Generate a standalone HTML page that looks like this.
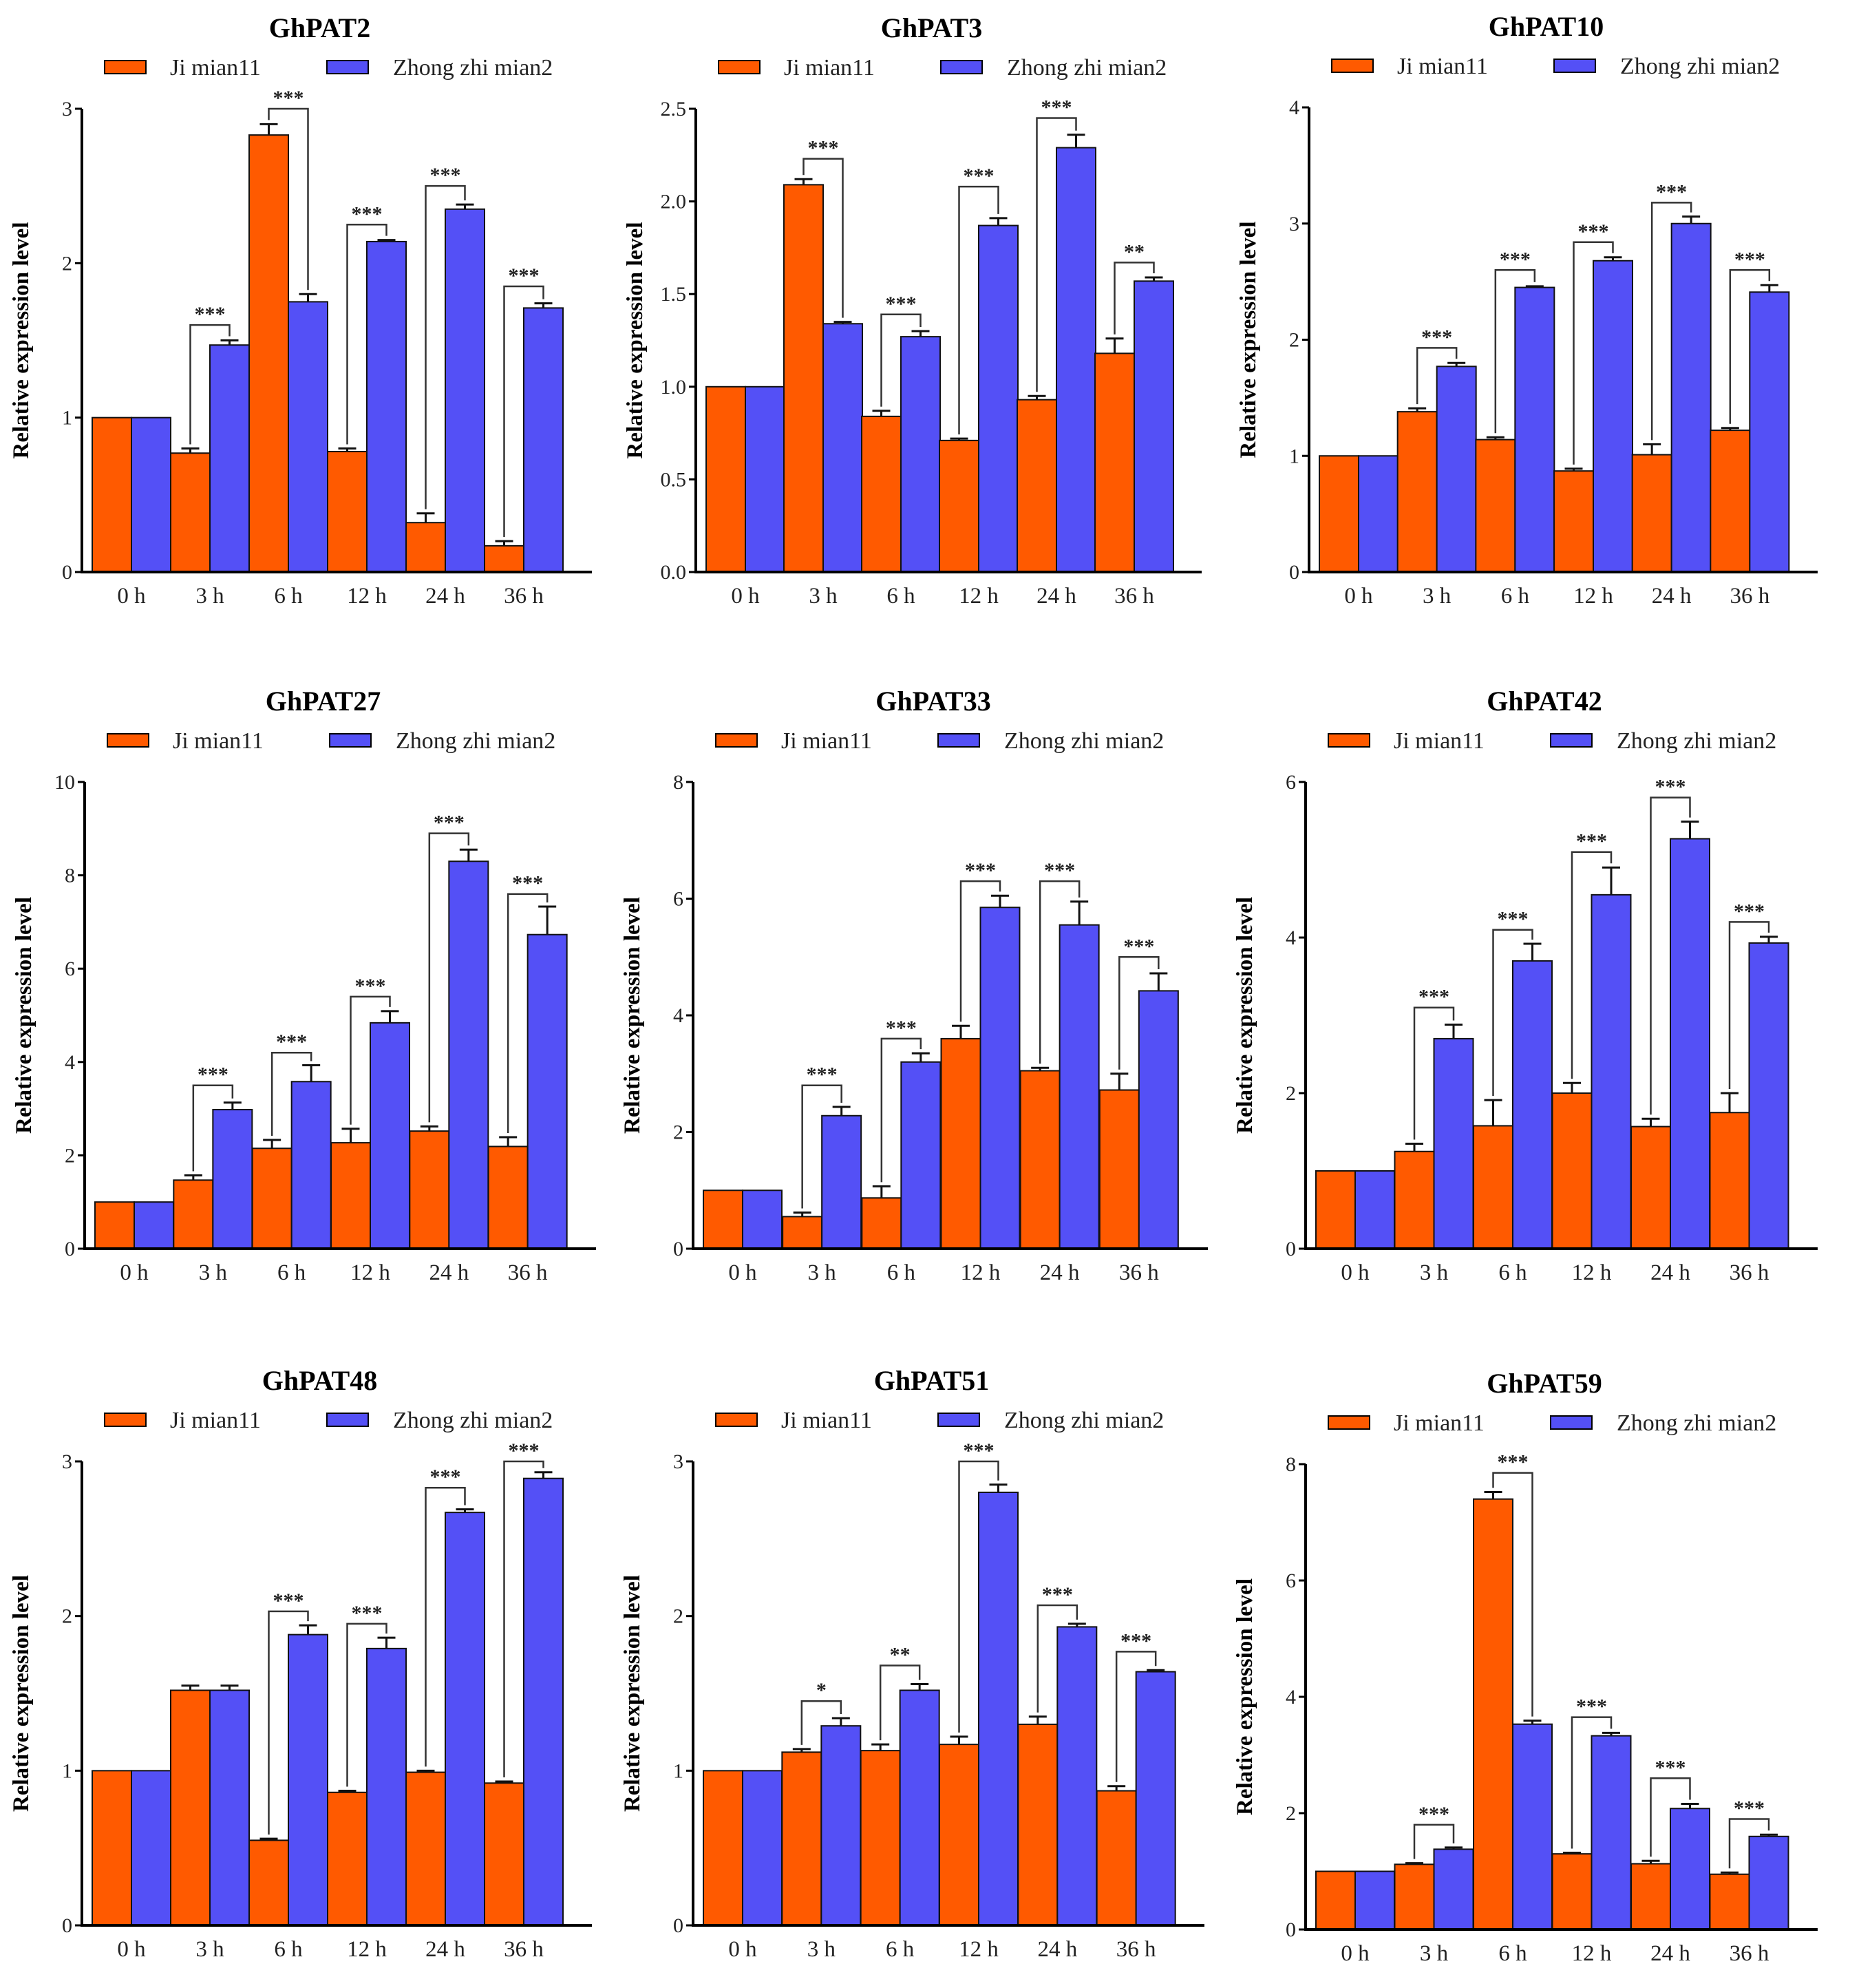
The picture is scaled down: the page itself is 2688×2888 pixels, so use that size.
<!DOCTYPE html>
<html><head><meta charset="utf-8"><style>
html,body{margin:0;padding:0;background:#fff;}
svg{display:block;font-family:"Liberation Serif",serif;}
svg text{font-family:"Liberation Serif","DejaVu Serif",serif;}
</style></head><body>
<svg id="chart" width="2688" height="2888" viewBox="0 0 2688 2888" xmlns="http://www.w3.org/2000/svg"></svg>
<script>
const categories = ["0 h","3 h","6 h","12 h","24 h","36 h"];
const titles = ["GhPAT2","GhPAT3","GhPAT10","GhPAT27","GhPAT33","GhPAT42","GhPAT48","GhPAT51","GhPAT59"];
const yMaxes = [3,2.5,4,10,8,6,3,3,8];
const yTickLabels = [
 ["0","1","2","3"],["0.0","0.5","1.0","1.5","2.0","2.5"],["0","1","2","3","4"],
 ["0","2","4","6","8","10"],["0","2","4","6","8"],["0","2","4","6"],
 ["0","1","2","3"],["0","1","2","3"],["0","2","4","6","8"]];
const jiValues = [
 [1,0.77,2.83,0.78,0.32,0.17],[1,2.09,0.84,0.71,0.93,1.18],[1,1.38,1.14,0.87,1.01,1.22],
 [1,1.47,2.15,2.27,2.52,2.19],[1,0.55,0.87,3.6,3.05,2.72],[1,1.25,1.58,2.0,1.57,1.75],
 [1,1.52,0.55,0.86,0.99,0.92],[1,1.12,1.13,1.17,1.3,0.87],[1,1.12,7.4,1.3,1.13,0.95]];
const jiErrors = [
 [0,0.03,0.07,0.02,0.06,0.03],[0,0.03,0.03,0.01,0.02,0.08],[0,0.03,0.02,0.02,0.09,0.02],
 [0,0.1,0.18,0.3,0.1,0.2],[0,0.07,0.2,0.22,0.05,0.28],[0,0.1,0.33,0.13,0.1,0.25],
 [0,0.03,0.01,0.01,0.01,0.01],[0,0.02,0.04,0.05,0.05,0.03],[0,0.02,0.12,0.02,0.05,0.03]];
const zhongValues = [
 [1,1.47,1.75,2.14,2.35,1.71],[1,1.34,1.27,1.87,2.29,1.57],[1,1.77,2.45,2.68,3.0,2.41],
 [1,2.98,3.58,4.84,8.3,6.73],[1,2.28,3.2,5.85,5.55,4.42],[1,2.7,3.7,4.55,5.27,3.93],
 [1,1.52,1.88,1.79,2.67,2.89],[1,1.29,1.52,2.8,1.93,1.64],[1,1.38,3.53,3.33,2.08,1.6]];
const zhongErrors = [
 [0,0.03,0.05,0.01,0.03,0.03],[0,0.01,0.03,0.04,0.07,0.02],[0,0.03,0.01,0.03,0.06,0.06],
 [0,0.15,0.35,0.25,0.25,0.6],[0,0.15,0.15,0.2,0.4,0.3],[0,0.18,0.22,0.35,0.22,0.08],
 [0,0.03,0.06,0.07,0.02,0.04],[0,0.05,0.04,0.05,0.02,0.01],[0,0.03,0.06,0.05,0.08,0.03]];
const sigLabels = [
 ["","***","***","***","***","***"],["","***","***","***","***","**"],["","***","***","***","***","***"],
 ["","***","***","***","***","***"],["","***","***","***","***","***"],["","***","***","***","***","***"],
 ["","","***","***","***","***"],["","*","**","***","***","***"],["","***","***","***","***","***"]];
const bracketHeights = [
 [0,1.6,3.0,2.25,2.5,1.85],[0,2.23,1.39,2.08,2.45,1.67],[0,1.93,2.6,2.84,3.18,2.6],
 [0,3.5,4.2,5.4,8.9,7.6],[0,2.8,3.6,6.3,6.3,5.0],[0,3.1,4.1,5.1,5.8,4.2],
 [0,0,2.03,1.95,2.83,3.0],[0,1.45,1.68,3.0,2.07,1.77],[0,1.8,7.85,3.65,2.6,1.9]];

const layouts = [
 {x0:119,x1:860,yt:158,yb:831},{x0:1011,x1:1746,yt:158,yb:831},{x0:1902,x1:2641,yt:156,yb:831},
 {x0:123,x1:866,yt:1136,yb:1814},{x0:1007,x1:1755,yt:1136,yb:1814},{x0:1897,x1:2641,yt:1136,yb:1814},
 {x0:119,x1:860,yt:2123,yb:2797},{x0:1007,x1:1750,yt:2123,yb:2797},{x0:1897,x1:2641,yt:2127,yb:2803}];
const ORANGE="#FF5A00", BLUE="#5450F6";
const FONT='"Liberation Serif", "DejaVu Serif", serif';
const svg=document.getElementById('chart');
const NS="http://www.w3.org/2000/svg";
function mk(tag,attrs,parent){const e=document.createElementNS(NS,tag);for(const k in attrs)e.setAttribute(k,attrs[k]);if(tag==='text')e.setAttribute('font-family',FONT);(parent||svg).appendChild(e);return e;}

layouts.forEach((L,p)=>{
  const g=mk('g',{});
  
  
  const yMax=yMaxes[p];
  const y=v=>L.yb-(v/yMax)*(L.yb-L.yt);
  const bw=57, start=L.x0+15, gw=(L.x1-L.x0-57)/6;
  const xJ=i=>start+i*gw, xZ=i=>start+i*gw+bw;
  const t=mk('text',{x:(L.x0+L.x1)/2-25,y:L.yt-104,'text-anchor':'middle','font-size':40,'font-weight':'bold'},g);
  t.textContent=titles[p];
  
  
  const lg=mk('g',{},g);
  
  
  const ly=L.yt-60;
  const s1=mk('rect',{x:L.x0+33,y:ly-10,width:60,height:19,fill:ORANGE,stroke:'#000','stroke-width':2},lg);
  
  
  const t1=mk('text',{x:L.x0+128,y:ly+11,'font-size':34,fill:'#222'},lg);t1.textContent='Ji mian11';
  
  
  const s2=mk('rect',{x:L.x0+356,y:ly-10,width:60,height:19,fill:BLUE,stroke:'#000','stroke-width':2},lg);
  
  
  const t2=mk('text',{x:L.x0+452,y:ly+11,'font-size':34,fill:'#222'},lg);t2.textContent='Zhong zhi mian2';
  
  
  const yc=(L.yt+L.yb)/2;
  const yt=mk('text',{x:L.x0-78,y:yc,'text-anchor':'middle','font-size':33,'font-weight':'bold',transform:`rotate(-90 ${L.x0-78} ${yc})`},g);
  yt.textContent='Relative expression level';
  
  
  const labs=yTickLabels[p];
  labs.forEach((lab,k)=>{
    const v=yMax*k/(labs.length-1), yy=y(v);
    const tk=mk('line',{x1:L.x0-10,x2:L.x0,y1:yy,y2:yy,stroke:'#000','stroke-width':3},g);
    
    
    const tl=mk('text',{x:L.x0-14,y:yy+10,'text-anchor':'end','font-size':30,fill:'#222'},g);tl.textContent=lab;
    
    
  });
  categories.forEach((c,i)=>{
    [[jiValues,jiErrors,ORANGE,xJ,'ji'],[zhongValues,zhongErrors,BLUE,xZ,'zhong']].forEach(([vals,errs,col,xf,nm])=>{
      const v=vals[p][i], e=errs[p][i];
      const r=mk('rect',{x:xf(i),y:y(v),width:bw,height:L.yb-y(v),fill:col,stroke:'#111','stroke-width':2},g);
      
      
      if(e>0){
        const cx=xf(i)+bw/2;
        const el=mk('path',{d:`M${cx} ${y(v)}V${y(v+e)}M${cx-13} ${y(v+e)}H${cx+13}`,stroke:'#111','stroke-width':3,fill:'none'},g);
        
        
      }
    });
    const xl=mk('text',{x:xJ(i)+bw,y:L.yb+45,'text-anchor':'middle','font-size':33,fill:'#222'},g);xl.textContent=c;
    
    
    const s=sigLabels[p][i];
    if(s){
      const bh=y(bracketHeights[p][i]);
      const cj=xJ(i)+bw/2, cz=xZ(i)+bw/2;
      const jt=y(jiValues[p][i]+jiErrors[p][i])-6, zt=y(zhongValues[p][i]+zhongErrors[p][i])-6;
      const br=mk('path',{d:`M${cj} ${jt}V${bh}H${cz}V${zt}`,stroke:'#333','stroke-width':2.5,fill:'none'},g);
      
      
      const st=mk('text',{x:(cj+cz)/2,y:bh-6,'text-anchor':'middle','font-size':30,'font-weight':'bold',fill:'#222'},g);st.textContent=s;
      
      
    }
  });
  const ax=mk('path',{d:`M${L.x0} ${L.yt}V${L.yb}H${L.x1}`,stroke:'#000','stroke-width':4,fill:'none'},g);
  
  
});
</script>
</body></html>
